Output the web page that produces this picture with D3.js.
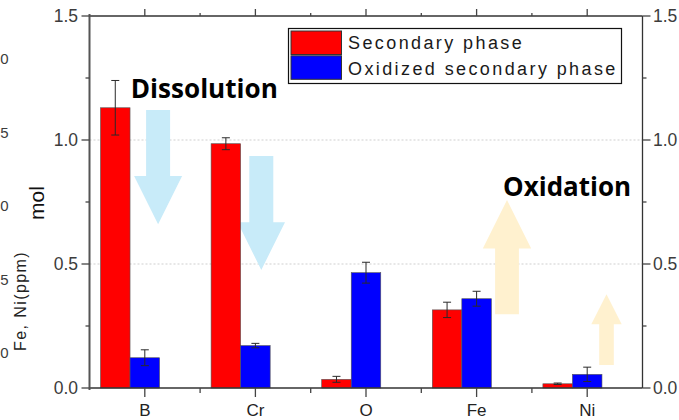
<!DOCTYPE html>
<html><head><meta charset="utf-8">
<script src="https://cdn.jsdelivr.net/npm/d3@7"></script>
<style>body{margin:0;background:#fff}svg{display:block}</style>
</head><body>
<svg id="chart" width="679" height="420"></svg>
<script>
const categories = ["B", "Cr", "O", "Fe", "Ni"];
const seriesNames = ["Secondary phase", "Oxidized secondary phase"];
const secondary = [1.13, 0.985, 0.035, 0.315, 0.017];
const secondaryErr = [0.11, 0.024, 0.012, 0.031, 0.003];
const oxidized = [0.122, 0.171, 0.465, 0.36, 0.055];
const oxidizedErr = [0.032, 0.009, 0.042, 0.03, 0.029];
const yTicks = [0, 0.5, 1.0, 1.5];
const yMinorTicks = [0.25, 0.75, 1.25];
const ppmTickLabels = ["0", "5", "0", "5", "0"];
const colors = ["#ff0000", "#0000ff"];
// annotation arrows: category, y values (tail, head base, tip) in mol
const arrows = [
  {cat: "B", tail: 1.121, base: 0.855, tip: 0.66, dx: 13.3, shaft: 12, head: 24, color: "#c8ebf9"},
  {cat: "Cr", tail: 0.935, base: 0.668, tip: 0.476, dx: 5.9, shaft: 12, head: 23.7, color: "#c8ebf9"},
  {cat: "Fe", tail: 0.297, base: 0.563, tip: 0.758, dx: 30.4, shaft: 11.9, head: 24.2, color: "#fff1cf"},
  {cat: "Ni", tail: 0.093, base: 0.257, tip: 0.378, dx: 19.3, shaft: 7.3, head: 15.2, color: "#fff1cf"}
];
const labels = [
  {text: "Dissolution", cat: "B", dx: -14, y: 1.17, len: 147},
  {text: "Oxidation", cat: "Fe", dx: 26.5, y: 0.775, len: 128}
];

const svg = d3.select("#chart");
const L = 89.5, R = 642.5, T = 16, B = 388;
const x = d3.scaleBand().domain(categories).range([L, R]).padding(0);
const y = d3.scaleLinear().domain([0, 1.5]).range([B, T]);
const cx = c => x(c) + x.bandwidth() / 2;
const bw = x.step() * 0.267;
const axisFont = "'Liberation Sans', Arial, sans-serif";

// gridlines
svg.append("g").selectAll("line").data([0.5, 1.0]).join("line")
  .attr("x1", L).attr("x2", R).attr("y1", d => y(d)).attr("y2", d => y(d))
  .attr("stroke", "#cfcfcf").attr("stroke-width", 1).attr("stroke-dasharray", "2,2");

// arrows
const arrowPath = a => {
  const c = cx(a.cat) + a.dx;
  const p = [[c - a.shaft, y(a.tail)], [c + a.shaft, y(a.tail)], [c + a.shaft, y(a.base)],
    [c + a.head, y(a.base)], [c, y(a.tip)], [c - a.head, y(a.base)], [c - a.shaft, y(a.base)]];
  return "M" + p.map(q => q.join(",")).join("L") + "Z";
};
svg.append("g").selectAll("path").data(arrows).join("path")
  .attr("d", arrowPath).attr("fill", d => d.color);

// bars
const rows = categories.map((c, i) => ({c, v: [secondary[i], oxidized[i]], e: [secondaryErr[i], oxidizedErr[i]]}));
const barX = (c, s) => cx(c) - bw / 2 - (s === 0 ? bw : 0);
const gBars = svg.append("g");
[0, 1].forEach(s => {
  gBars.append("g").selectAll("rect").data(rows).join("rect")
    .attr("x", d => barX(d.c, s)).attr("width", bw)
    .attr("y", d => y(d.v[s])).attr("height", d => y(0) - y(d.v[s]))
    .attr("fill", colors[s]).attr("stroke", "#555").attr("stroke-width", 0.6);
});
// error bars
[0, 1].forEach(s => {
  const g = gBars.append("g").attr("stroke", "#2a2a2a").attr("stroke-width", 1);
  rows.forEach(d => {
    const mx = barX(d.c, s) + bw / 2;
    const y1 = y(d.v[s] + d.e[s]), y2 = y(d.v[s] - d.e[s]);
    g.append("line").attr("x1", mx).attr("x2", mx).attr("y1", y1).attr("y2", y2);
    g.append("line").attr("x1", mx - 4).attr("x2", mx + 4).attr("y1", y1).attr("y2", y1);
    g.append("line").attr("x1", mx - 4).attr("x2", mx + 4).attr("y1", y2).attr("y2", y2);
  });
});

// axes frame
const axG = svg.append("g").attr("stroke", "#333").attr("stroke-width", 1.3);
axG.append("line").attr("x1", L).attr("x2", R).attr("y1", y(0)).attr("y2", y(0));
axG.append("line").attr("x1", L).attr("x2", R).attr("y1", y(1.5)).attr("y2", y(1.5));
axG.append("line").attr("x1", L).attr("x2", L).attr("y1", y(1.5) - 2).attr("y2", y(0) + 2).attr("stroke", "#555").attr("stroke-width", 2);
axG.append("line").attr("x1", R).attr("x2", R).attr("y1", y(1.5)).attr("y2", y(0));

// y ticks
const tickG = svg.append("g").attr("stroke", "#444").attr("stroke-width", 1.3);
yTicks.forEach(t => {
  tickG.append("line").attr("x1", L - 8).attr("x2", L).attr("y1", y(t)).attr("y2", y(t));
  tickG.append("line").attr("x1", R).attr("x2", R + 8).attr("y1", y(t)).attr("y2", y(t));
});
yMinorTicks.forEach(t => {
  tickG.append("line").attr("x1", L - 4).attr("x2", L).attr("y1", y(t)).attr("y2", y(t));
  tickG.append("line").attr("x1", R).attr("x2", R + 4).attr("y1", y(t)).attr("y2", y(t));
});
// x ticks
categories.forEach(c => {
  tickG.append("line").attr("x1", cx(c)).attr("x2", cx(c)).attr("y1", y(0)).attr("y2", y(0) + 9);
  tickG.append("line").attr("x1", cx(c)).attr("x2", cx(c)).attr("y1", y(1.5)).attr("y2", y(1.5) - 7);
});
categories.slice(1).forEach(c => {
  tickG.append("line").attr("x1", x(c)).attr("x2", x(c)).attr("y1", y(0)).attr("y2", y(0) + 5);
  tickG.append("line").attr("x1", x(c)).attr("x2", x(c)).attr("y1", y(1.5)).attr("y2", y(1.5) - 3);
});

// tick labels
const fmt = d3.format(".1f");
svg.append("g").selectAll("text").data(yTicks).join("text")
  .attr("x", L - 11.5).attr("y", d => y(d) + 6.3).attr("text-anchor", "end")
  .attr("font-family", axisFont).attr("font-size", 17.5).attr("fill", "#3c3c3c").text(fmt);
svg.append("g").selectAll("text").data(yTicks).join("text")
  .attr("x", R + 10.5).attr("y", d => y(d) + 6.3).attr("text-anchor", "start")
  .attr("font-family", axisFont).attr("font-size", 17.5).attr("fill", "#3c3c3c").text(fmt);
svg.append("g").selectAll("text").data(categories).join("text")
  .attr("x", d => cx(d)).attr("y", 416).attr("text-anchor", "middle")
  .attr("font-family", axisFont).attr("font-size", 17).attr("fill", "#222").text(d => d);

// far-left ppm axis label digits
const yp = d3.scalePoint().domain(d3.range(ppmTickLabels.length)).range([58, 352]);
svg.append("g").selectAll("text").data(ppmTickLabels).join("text")
  .attr("x", 8.5).attr("y", (d, i) => yp(i) + 6).attr("text-anchor", "end")
  .attr("font-family", axisFont).attr("font-size", 15).attr("fill", "#3c3c3c").text(d => d);

// axis titles
svg.append("text").attr("transform", "translate(44,203) rotate(-90)").attr("text-anchor", "middle")
  .attr("font-family", axisFont).attr("font-size", 21).attr("fill", "#111").text("mol");
svg.append("text").attr("transform", "translate(25.5,301) rotate(-90)").attr("text-anchor", "middle")
  .attr("font-family", axisFont).attr("font-size", 16).attr("letter-spacing", 1.4).attr("fill", "#222").text("Fe, Ni(ppm)");

// annotation labels
svg.append("g").selectAll("text").data(labels).join("text")
  .attr("x", d => cx(d.cat) + d.dx).attr("y", d => y(d.y))
  .attr("font-family", "'Open Sans', 'Noto Sans', sans-serif").attr("font-weight", 700)
  .attr("font-size", 27).attr("fill", "#000")
  .attr("textLength", d => d.len).attr("lengthAdjust", "spacingAndGlyphs").text(d => d.text);

// legend
const lg = svg.append("g");
lg.append("rect").attr("x", 288.5).attr("y", 28.5).attr("width", 333).attr("height", 55)
  .attr("fill", "#fff").attr("stroke", "#111").attr("stroke-width", 1.2);
seriesNames.forEach((n, i) => {
  lg.append("rect").attr("x", 291).attr("y", 31 + i * 24.8).attr("width", 50.5).attr("height", 23.5)
    .attr("fill", colors[i]).attr("stroke", "#333").attr("stroke-width", 1);
  lg.append("text").attr("x", 348).attr("y", 48.5 + i * 26.5)
    .attr("font-family", axisFont).attr("font-size", 18).attr("letter-spacing", 2.4)
    .attr("fill", "#1a1a1a").text(n);
});
</script>
</body></html>
